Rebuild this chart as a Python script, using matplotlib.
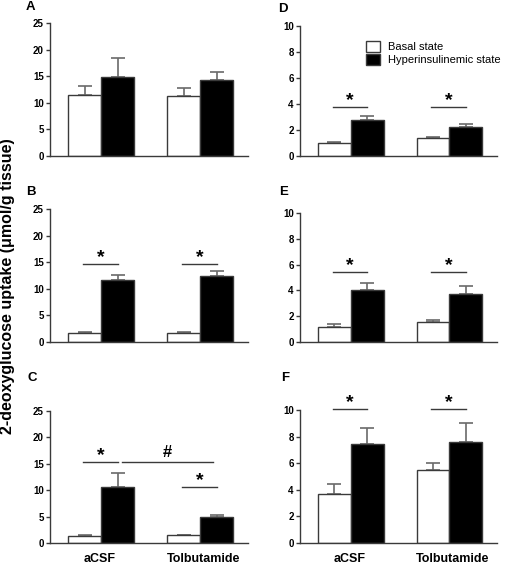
import matplotlib
matplotlib.use("Agg")
import matplotlib.pyplot as plt
from matplotlib.patches import Patch

plt.rcParams['font.family'] = ['Liberation Sans', 'DejaVu Sans']

groups = ["aCSF", "Tolbutamide"]
series = ["Basal state", "Hyperinsulinemic state"]

# panel values: (basal means, basal sem, hyper means, hyper sem)
A_basal = [11.5, 11.3]; A_basal_err = [1.6, 1.4]
A_hyper = [14.9, 14.2]; A_hyper_err = [3.5, 1.6]
B_basal = [1.7, 1.7]; B_basal_err = [0.2, 0.1]
B_hyper = [11.7, 12.4]; B_hyper_err = [0.9, 1.0]
C_basal = [1.4, 1.5]; C_basal_err = [0.2, 0.1]
C_hyper = [10.6, 4.9]; C_hyper_err = [2.6, 0.4]
D_basal = [1.0, 1.4]; D_basal_err = [0.05, 0.1]
D_hyper = [2.8, 2.2]; D_hyper_err = [0.25, 0.3]
E_basal = [1.2, 1.55]; E_basal_err = [0.2, 0.15]
E_hyper = [4.05, 3.7]; E_hyper_err = [0.5, 0.65]
F_basal = [3.7, 5.5]; F_basal_err = [0.75, 0.5]
F_hyper = [7.45, 7.6]; F_hyper_err = [1.2, 1.45]

# significance bar heights (per group, None = no bar)
A_sig = [None, None]
B_sig = [14.6, 14.6]
C_sig = [15.4, 10.7]
D_sig = [3.8, 3.8]
E_sig = [5.4, 5.4]
F_sig = [10.1, 10.1]
C_hash = 15.4

W, H = 505, 564
fig = plt.figure(figsize=(W / 100, H / 100), dpi=100)

def frac(x0, top, x1, bottom):
    return [x0 / W, 1 - bottom / H, (x1 - x0) / W, (bottom - top) / H]

panels = [
    ("A", frac(50, 23, 248, 156), A_basal, A_basal_err, A_hyper, A_hyper_err, A_sig, 25, 5, (26, 7)),
    ("B", frac(50, 209, 248, 342), B_basal, B_basal_err, B_hyper, B_hyper_err, B_sig, 25, 5, (26, 191.5)),
    ("C", frac(50, 411, 248, 543), C_basal, C_basal_err, C_hyper, C_hyper_err, C_sig, 25, 5, (28, 378)),
    ("D", frac(300, 26, 497, 156), D_basal, D_basal_err, D_hyper, D_hyper_err, D_sig, 10, 2, (278, 9)),
    ("E", frac(300, 213, 497, 342), E_basal, E_basal_err, E_hyper, E_hyper_err, E_sig, 10, 2, (279, 191.5)),
    ("F", frac(300, 410, 497, 543), F_basal, F_basal_err, F_hyper, F_hyper_err, F_sig, 10, 2, (281, 378)),
]

line_col = '#3a3a3a'
err_col = '#6a6a6a'
centers_b = [1.0, 4.0]
centers_h = [2.0, 5.0]

for label, rect, bm, be, hm, he, sig, ymax, step, lpos in panels:
    ax = fig.add_axes(rect)
    ax.bar(centers_b, bm, width=1.0, color='white', edgecolor=line_col, linewidth=1.0, zorder=2)
    ax.bar(centers_h, hm, width=1.0, color='black', edgecolor=line_col, linewidth=1.0, zorder=2)
    ax.errorbar(centers_b, bm, yerr=[[0, 0], be], fmt='none', ecolor=err_col,
                elinewidth=1.2, capsize=5, capthick=1.2, zorder=1)
    ax.errorbar(centers_h, hm, yerr=[[0, 0], he], fmt='none', ecolor=err_col,
                elinewidth=1.2, capsize=5, capthick=1.2, zorder=1)
    ax.set_xlim(-0.05, 5.95)
    ax.set_ylim(0, ymax)
    ax.set_yticks(range(0, ymax + 1, step))
    ax.set_xticks([])
    for s in ['top', 'right']:
        ax.spines[s].set_visible(False)
    for s in ['left', 'bottom']:
        ax.spines[s].set_color(line_col)
        ax.spines[s].set_linewidth(1.0)
    ax.tick_params(axis='y', length=3, width=1, color=line_col, pad=1.5, labelsize=7)
    for t in ax.get_yticklabels():
        t.set_fontweight('bold')
    for i, y in enumerate(sig):
        if y is None:
            continue
        x0, x1 = centers_b[i] - 0.05, centers_h[i]
        ax.plot([x0, x1], [y, y], color=line_col, lw=1.0, clip_on=False)
        ax.annotate('*', xy=((x0 + x1) / 2, y), xytext=(0, -1.5), textcoords='offset points',
                    ha='center', va='bottom', fontsize=14, fontweight='bold', annotation_clip=False)
    if label == "C":
        ax.plot([2.12, 4.9], [C_hash, C_hash], color=line_col, lw=1.0, clip_on=False)
        ax.annotate('#', xy=(3.5, C_hash), xytext=(0, 1), textcoords='offset points',
                    ha='center', va='bottom', fontsize=12, fontweight='bold')
    if label in ("C", "F"):
        for gx, g in zip([1.45, 4.6], groups):
            ax.text(gx, -0.077, g, transform=ax.get_xaxis_transform(), ha='center', va='top',
                    fontsize=9, fontweight='bold')
    if label == "D":
        handles = [Patch(facecolor='white', edgecolor=line_col, lw=1.0),
                   Patch(facecolor='black', edgecolor=line_col, lw=1.0)]
        ax.legend(handles, series, loc='upper left', bbox_to_anchor=(0.31, 0.92),
                  frameon=False, fontsize=8, handlelength=1.3, handleheight=1.1,
                  handletextpad=0.7, labelspacing=0.2, borderaxespad=0)
    fig.text(lpos[0] / W, 1 - lpos[1] / H, label, ha='left', va='center',
             fontsize=9.5, fontweight='bold')

fig.text(8 / W, 1 - 286 / H, "2-deoxyglucose uptake (μmol/g tissue)", rotation=90,
         ha='center', va='center', fontsize=11.5, fontweight='bold')

fig.savefig('out.png', dpi=100)
